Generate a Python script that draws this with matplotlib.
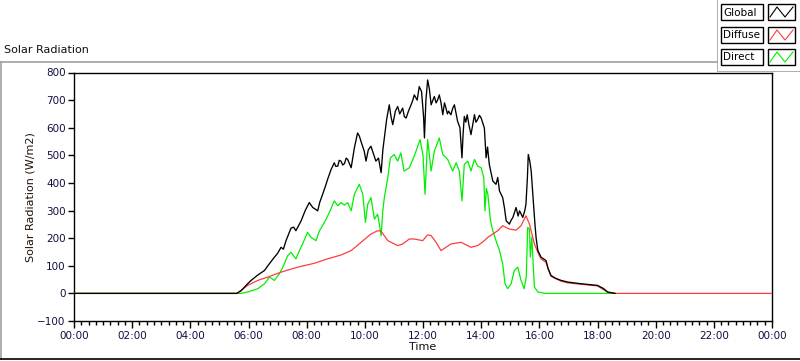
import matplotlib
matplotlib.use("Agg")
import matplotlib.pyplot as plt
from matplotlib.ticker import MultipleLocator, FuncFormatter
from matplotlib.lines import Line2D
from matplotlib.patches import Rectangle

plt.rcParams['font.family'] = ['DejaVu Sans']

# ---------------- data (time in hours, values in W/m2) ----------------
global_t = [0, 5.60, 5.75, 5.97, 6.09, 6.30, 6.55, 6.70, 6.89, 7.00, 7.12, 7.20, 7.29, 7.46,
            7.55, 7.63, 7.72, 7.81, 7.95, 8.09, 8.15, 8.21, 8.30, 8.38, 8.45, 8.55, 8.65,
            8.72, 8.84, 8.95, 9.00, 9.07, 9.12, 9.18, 9.24, 9.30, 9.36, 9.41, 9.47, 9.53,
            9.64, 9.75, 9.81, 9.90, 9.98,
            10.04, 10.12, 10.21, 10.30, 10.38, 10.47, 10.56, 10.62, 10.67, 10.75, 10.84,
            10.90, 10.96, 11.05, 11.13, 11.20, 11.30, 11.36, 11.42, 11.50, 11.59, 11.65, 11.70,
            11.80, 11.87, 11.95, 12.02, 12.05, 12.10, 12.16, 12.22, 12.28, 12.34, 12.39,
            12.45, 12.50, 12.56, 12.62, 12.68, 12.74, 12.79, 12.84, 12.88, 12.96, 13.02, 13.08,
            13.14, 13.19, 13.27, 13.34,
            13.38, 13.42, 13.47, 13.52, 13.58, 13.65, 13.77, 13.82, 13.88, 13.94, 14.00, 14.11,
            14.17, 14.22, 14.28,
            14.40, 14.51, 14.57, 14.63, 14.74, 14.80, 14.86, 14.97, 15.03, 15.09, 15.20,
            15.27, 15.32, 15.43, 15.50, 15.54, 15.59, 15.62, 15.67, 15.72, 15.77, 15.80,
            15.85, 15.89, 15.95, 16.06, 16.23, 16.30, 16.40, 16.55, 16.75, 16.98, 17.20,
            17.43, 17.70, 18.00, 18.20, 18.35, 18.60]
global_v = [0, 0, 10, 35, 47, 65, 83, 105, 131, 145, 167, 160, 191, 236,
            240, 227, 245, 263, 300, 329, 320, 311, 305, 299, 330, 359, 390,
            413, 449, 473, 460, 461, 482, 479, 465, 470, 490, 485, 470, 455,
            527, 581, 570, 540, 515,
            479, 520, 533, 505, 479, 490, 437, 520, 563, 630, 683,
            640, 611, 660, 677, 650, 671, 640, 635, 660, 683, 700, 719,
            700, 749, 731, 640, 563, 700, 773, 740, 683, 700, 713,
            690, 700, 719, 690, 647, 690, 671, 650, 660, 647, 670, 683,
            650, 623, 600, 491,
            580, 641, 620, 647, 610, 575, 647, 620, 630, 645, 635, 599,
            491, 530, 467,
            407, 395, 420, 371, 347, 310, 263, 251, 265, 275, 311,
            280, 299, 275, 300, 323, 420, 503, 480, 443, 365, 323,
            250, 200, 155, 131, 119, 90, 65, 55, 47, 41, 38,
            35, 32, 29, 18, 5, 0]

diffuse_t = [0, 5.60, 5.97, 6.32, 6.66, 7.12, 7.69, 8.26, 8.72, 9.18, 9.53, 9.87, 10.21,
             10.44, 10.56, 10.79, 11.13, 11.30, 11.53, 11.70, 11.99, 12.16, 12.28, 12.45,
             12.62, 12.96, 13.31, 13.65, 13.88, 14.11, 14.23, 14.40, 14.57, 14.74, 14.97,
             15.20, 15.37, 15.54, 15.66, 15.83, 16.00, 16.06, 16.23, 16.40, 16.75, 16.98,
             17.43, 18.00, 18.35, 18.60, 24]
diffuse_v = [0, 0, 29, 47, 59, 77, 95, 109, 125, 139, 155, 185, 215,
             227, 225, 191, 173, 179, 197, 197, 191, 212, 209, 185,
             155, 179, 185, 167, 173, 191, 203, 215, 227, 245, 233,
             229, 245, 281, 251, 179, 137, 125, 112, 62, 44, 38,
             33, 27, 4, 0, 0]

direct_t = [0, 5.75, 5.97, 6.32, 6.55, 6.72, 6.89, 7.06, 7.18, 7.35, 7.46, 7.63, 7.75,
            7.86, 8.03, 8.15, 8.32, 8.44, 8.61, 8.78, 8.95, 9.07, 9.18, 9.30, 9.41, 9.53,
            9.64, 9.81, 9.93, 10.02, 10.10, 10.21, 10.33, 10.44, 10.50, 10.56, 10.62,
            10.67, 10.79, 10.88, 11.01, 11.13, 11.24, 11.35, 11.53, 11.65, 11.76, 11.90,
            12.00, 12.07, 12.16, 12.28, 12.39, 12.56, 12.68, 12.85, 13.02, 13.14, 13.25,
            13.34, 13.42, 13.54, 13.65, 13.77, 13.88, 14.00, 14.09, 14.13, 14.18, 14.23,
            14.32, 14.40, 14.51, 14.63, 14.74, 14.82, 14.91, 15.03, 15.14, 15.26, 15.37,
            15.48, 15.55, 15.60, 15.66, 15.69, 15.74, 15.77, 15.83, 15.95, 16.06, 16.20, 18.60]
direct_v = [0, 0, 5, 17, 35, 59, 47, 71, 95, 137, 149, 125, 155,
            179, 221, 203, 191, 227, 257, 293, 335, 317, 329, 320, 329, 299,
            359, 395, 359, 257, 323, 347, 269, 287, 250, 209, 300,
            347, 419, 491, 503, 479, 509, 443, 455, 485, 515, 557,
            500, 359, 557, 443, 515, 563, 503, 485, 443, 473, 443,
            335, 467, 479, 443, 485, 461, 455, 419, 299, 380, 359,
            263, 227, 191, 155, 107, 35, 17, 35, 83, 95, 47,
            17, 60, 239, 233, 131, 203, 143, 23, 5, 3, 0, 0]

series_names = ["Global", "Diffuse", "Direct"]
series_colors = ["#000000", "#ff3c3c", "#00f000"]

x_ticks = list(range(0, 25, 2))
y_ticks = list(range(-100, 801, 100))

# ---------------- figure ----------------
W, H = 800, 361
fig = plt.figure(figsize=(W / 100, H / 100), dpi=100, facecolor="white")

def fx(x):
    return x / W

def fy(y):
    return 1 - y / H

# outer panel frame (3D look)
fig.add_artist(Line2D([fx(0), fx(717)], [fy(62), fy(62)], color="#a0a0a0", lw=1.2))
fig.add_artist(Line2D([fx(1), fx(1)], [fy(62), fy(359)], color="#a0a0a0", lw=1.2))
fig.add_artist(Line2D([fx(0), fx(800)], [fy(359), fy(359)], color="#000000", lw=1.2))

fig.text(fx(4), fy(50), "Solar Radiation", fontsize=8, ha="left", va="center", color="#101010")

ax = fig.add_axes([fx(74), fy(321), (772 - 74) / W, (321 - 72.5) / H])
ax.set_xlim(0, 24)
ax.set_ylim(-100, 800)

ax.plot(direct_t, direct_v, color=series_colors[2], lw=0.9, zorder=2)
ax.plot(diffuse_t, diffuse_v, color=series_colors[1], lw=0.9, zorder=3)
ax.plot(global_t, global_v, color=series_colors[0], lw=0.95, zorder=4)

ax.set_xticks(x_ticks)
ax.xaxis.set_minor_locator(MultipleLocator(0.25))
ax.xaxis.set_major_formatter(FuncFormatter(lambda v, p: "%02d:00" % (int(round(v)) % 24)))
ax.set_yticks(y_ticks)
ax.tick_params(axis="x", which="major", direction="out", length=5, width=1, pad=2,
               labelsize=7.5, colors="#000000", labelcolor="#101040")
ax.tick_params(axis="x", which="minor", direction="out", length=3, width=1)
ax.tick_params(axis="y", which="major", direction="out", length=4, width=1, pad=2,
               labelsize=7.5, labelcolor="#101040")
for s in ax.spines.values():
    s.set_color("#000000")
    s.set_linewidth(1.0)

ax.set_xlabel("Time", fontsize=8, labelpad=1, color="#101010")
ax.set_ylabel("Solar Radiation (W/m2)", fontsize=8, labelpad=1, color="#201008")

# ---------------- legend panel ----------------
lax = fig.add_axes([fx(717), fy(72), (800 - 717) / W, 72 / H])
lax.set_xlim(717, 800)
lax.set_ylim(72, 0)
lax.axis("off")
lax.add_patch(Rectangle((717, 0), 83, 72, facecolor="white", edgecolor="none", zorder=0))
lax.plot([717.5, 717.5], [0, 72], color="#a0a0a0", lw=1.2, zorder=1)
lax.plot([717, 800], [71.5, 71.5], color="#a0a0a0", lw=1.2, zorder=1)
tops = [4, 27, 49]
for name, col, top in zip(series_names, series_colors, tops):
    lax.add_patch(Rectangle((721, top), 42, 16, facecolor="white", edgecolor="black", lw=1, zorder=2))
    lax.text(723, top + 8.5, name, fontsize=7.5, ha="left", va="center", color="black", zorder=3)
    lax.add_patch(Rectangle((768, top), 27, 16, facecolor="white", edgecolor="black", lw=1, zorder=2))
    lax.plot([770, 777, 785, 793], [top + 13, top + 3, top + 13, top + 3], color=col, lw=0.8, zorder=3)

fig.savefig("out.png", dpi=100, facecolor="white")
